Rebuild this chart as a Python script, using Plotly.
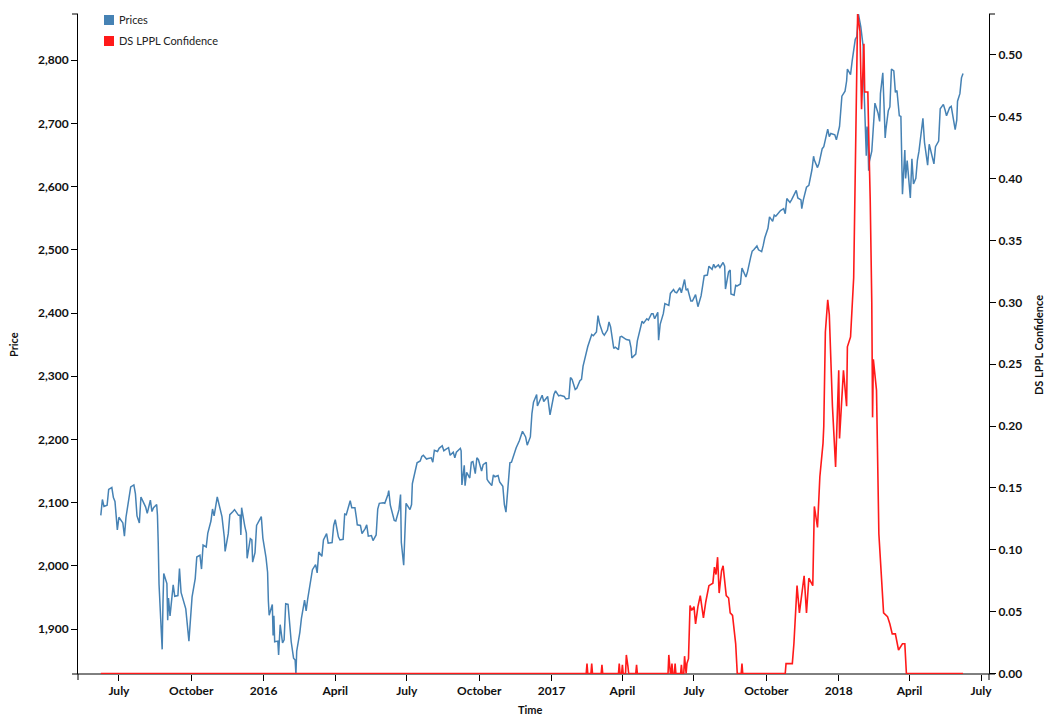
import plotly.graph_objects as go

# S&P 500 closing prices, grouped by year as (date, close) pairs
prices_2015 = [
    ("2015-06-08", 2080), ("2015-06-10", 2105), ("2015-06-12", 2094), ("2015-06-16", 2096),
    ("2015-06-18", 2121), ("2015-06-22", 2124), ("2015-06-24", 2108), ("2015-06-26", 2102),
    ("2015-06-29", 2057), ("2015-07-01", 2077), ("2015-07-06", 2068), ("2015-07-08", 2047),
    ("2015-07-10", 2077), ("2015-07-14", 2108), ("2015-07-16", 2125), ("2015-07-20", 2128),
    ("2015-07-22", 2114), ("2015-07-24", 2079), ("2015-07-27", 2068), ("2015-07-29", 2109),
    ("2015-07-31", 2104), ("2015-08-04", 2093), ("2015-08-06", 2083), ("2015-08-10", 2104),
    ("2015-08-12", 2086), ("2015-08-14", 2092), ("2015-08-18", 2097), ("2015-08-19", 2080),
    ("2015-08-20", 2035), ("2015-08-21", 1971), ("2015-08-24", 1893), ("2015-08-25", 1868),
    ("2015-08-26", 1940), ("2015-08-27", 1988), ("2015-08-31", 1972), ("2015-09-01", 1914),
    ("2015-09-02", 1949), ("2015-09-04", 1921), ("2015-09-08", 1970), ("2015-09-10", 1952),
    ("2015-09-14", 1953), ("2015-09-16", 1996), ("2015-09-18", 1958), ("2015-09-22", 1943),
    ("2015-09-24", 1932), ("2015-09-28", 1881), ("2015-09-30", 1920), ("2015-10-02", 1951),
    ("2015-10-06", 1980), ("2015-10-08", 2014), ("2015-10-12", 2017), ("2015-10-14", 1995),
    ("2015-10-16", 2033), ("2015-10-20", 2030), ("2015-10-22", 2052), ("2015-10-26", 2071),
    ("2015-10-28", 2090), ("2015-10-30", 2079), ("2015-11-03", 2109), ("2015-11-05", 2099),
    ("2015-11-09", 2078), ("2015-11-12", 2045), ("2015-11-13", 2023), ("2015-11-17", 2051),
    ("2015-11-19", 2081), ("2015-11-23", 2086), ("2015-11-25", 2089), ("2015-11-30", 2080),
    ("2015-12-02", 2080), ("2015-12-03", 2049), ("2015-12-04", 2092), ("2015-12-08", 2063),
    ("2015-12-10", 2052), ("2015-12-11", 2012), ("2015-12-15", 2043), ("2015-12-17", 2041),
    ("2015-12-18", 2006), ("2015-12-21", 2021), ("2015-12-23", 2064), ("2015-12-29", 2078),
    ("2015-12-31", 2044),
]

prices_2016 = [
    ("2016-01-04", 2013), ("2016-01-06", 1990), ("2016-01-07", 1944), ("2016-01-08", 1922),
    ("2016-01-12", 1939), ("2016-01-13", 1890), ("2016-01-14", 1921), ("2016-01-15", 1880),
    ("2016-01-19", 1881), ("2016-01-20", 1859), ("2016-01-22", 1907), ("2016-01-25", 1878),
    ("2016-01-27", 1883), ("2016-01-29", 1940), ("2016-02-01", 1939), ("2016-02-03", 1912),
    ("2016-02-05", 1880), ("2016-02-08", 1854), ("2016-02-10", 1851), ("2016-02-11", 1829),
    ("2016-02-12", 1865), ("2016-02-16", 1895), ("2016-02-18", 1917), ("2016-02-22", 1946),
    ("2016-02-24", 1929), ("2016-02-26", 1948), ("2016-03-01", 1978), ("2016-03-03", 1994),
    ("2016-03-07", 2002), ("2016-03-09", 1989), ("2016-03-11", 2022), ("2016-03-15", 2015),
    ("2016-03-17", 2041), ("2016-03-21", 2051), ("2016-03-23", 2036), ("2016-03-28", 2037),
    ("2016-03-30", 2064), ("2016-04-01", 2073), ("2016-04-05", 2046), ("2016-04-07", 2041),
    ("2016-04-11", 2042), ("2016-04-13", 2082), ("2016-04-15", 2081), ("2016-04-19", 2101),
    ("2016-04-20", 2103), ("2016-04-22", 2092), ("2016-04-26", 2092), ("2016-04-28", 2075),
    ("2016-04-29", 2065), ("2016-05-03", 2064), ("2016-05-05", 2051), ("2016-05-09", 2059),
    ("2016-05-11", 2065), ("2016-05-13", 2047), ("2016-05-17", 2048), ("2016-05-19", 2040),
    ("2016-05-23", 2049), ("2016-05-25", 2090), ("2016-05-27", 2099), ("2016-06-01", 2100),
    ("2016-06-03", 2099), ("2016-06-07", 2113), ("2016-06-08", 2119), ("2016-06-10", 2096),
    ("2016-06-13", 2079), ("2016-06-15", 2072), ("2016-06-17", 2071), ("2016-06-21", 2089),
    ("2016-06-23", 2113), ("2016-06-24", 2037), ("2016-06-27", 2001), ("2016-06-28", 2036),
    ("2016-06-30", 2099), ("2016-07-05", 2089), ("2016-07-07", 2097), ("2016-07-08", 2130),
    ("2016-07-12", 2152), ("2016-07-14", 2163), ("2016-07-18", 2166), ("2016-07-20", 2173),
    ("2016-07-22", 2175), ("2016-07-26", 2169), ("2016-07-28", 2170), ("2016-08-01", 2171),
    ("2016-08-03", 2164), ("2016-08-05", 2183), ("2016-08-09", 2181), ("2016-08-11", 2186),
    ("2016-08-15", 2190), ("2016-08-17", 2182), ("2016-08-19", 2184), ("2016-08-23", 2187),
    ("2016-08-25", 2175), ("2016-08-29", 2180), ("2016-08-31", 2171), ("2016-09-02", 2180),
    ("2016-09-07", 2186), ("2016-09-08", 2182), ("2016-09-09", 2128), ("2016-09-12", 2159),
    ("2016-09-13", 2127), ("2016-09-15", 2148), ("2016-09-19", 2139), ("2016-09-21", 2164),
    ("2016-09-23", 2165), ("2016-09-26", 2146), ("2016-09-28", 2171), ("2016-09-30", 2168),
    ("2016-10-04", 2150), ("2016-10-06", 2160), ("2016-10-10", 2164), ("2016-10-11", 2137),
    ("2016-10-13", 2133), ("2016-10-17", 2127), ("2016-10-19", 2144), ("2016-10-21", 2141),
    ("2016-10-25", 2143), ("2016-10-27", 2133), ("2016-10-31", 2126), ("2016-11-02", 2097),
    ("2016-11-04", 2085), ("2016-11-07", 2132), ("2016-11-09", 2163), ("2016-11-11", 2164),
    ("2016-11-15", 2180), ("2016-11-17", 2187), ("2016-11-21", 2198), ("2016-11-23", 2204),
    ("2016-11-25", 2213), ("2016-11-29", 2204), ("2016-12-01", 2191), ("2016-12-05", 2204),
    ("2016-12-07", 2241), ("2016-12-09", 2259), ("2016-12-13", 2271), ("2016-12-14", 2253),
    ("2016-12-16", 2258), ("2016-12-20", 2270), ("2016-12-22", 2260), ("2016-12-27", 2268),
    ("2016-12-30", 2239),
]

prices_2017 = [
    ("2017-01-04", 2271), ("2017-01-06", 2277), ("2017-01-10", 2269), ("2017-01-12", 2270),
    ("2017-01-17", 2268), ("2017-01-19", 2264), ("2017-01-23", 2265), ("2017-01-25", 2298),
    ("2017-01-27", 2295), ("2017-01-31", 2279), ("2017-02-02", 2281), ("2017-02-06", 2293),
    ("2017-02-08", 2295), ("2017-02-10", 2316), ("2017-02-14", 2338), ("2017-02-16", 2347),
    ("2017-02-21", 2366), ("2017-02-23", 2364), ("2017-02-27", 2370), ("2017-03-01", 2396),
    ("2017-03-03", 2383), ("2017-03-07", 2368), ("2017-03-09", 2365), ("2017-03-13", 2373),
    ("2017-03-15", 2386), ("2017-03-17", 2378), ("2017-03-21", 2344), ("2017-03-23", 2346),
    ("2017-03-27", 2342), ("2017-03-29", 2362), ("2017-03-31", 2363), ("2017-04-04", 2360),
    ("2017-04-06", 2358), ("2017-04-10", 2357), ("2017-04-12", 2345), ("2017-04-13", 2329),
    ("2017-04-18", 2335), ("2017-04-20", 2356), ("2017-04-24", 2374), ("2017-04-26", 2387),
    ("2017-04-28", 2384), ("2017-05-02", 2391), ("2017-05-04", 2389), ("2017-05-08", 2399),
    ("2017-05-10", 2399), ("2017-05-12", 2391), ("2017-05-16", 2401), ("2017-05-17", 2357),
    ("2017-05-19", 2382), ("2017-05-23", 2399), ("2017-05-25", 2415), ("2017-05-30", 2412),
    ("2017-06-01", 2431), ("2017-06-05", 2437), ("2017-06-07", 2433), ("2017-06-09", 2432),
    ("2017-06-13", 2440), ("2017-06-15", 2432), ("2017-06-19", 2453), ("2017-06-21", 2436),
    ("2017-06-23", 2438), ("2017-06-27", 2419), ("2017-06-29", 2419), ("2017-07-03", 2429),
    ("2017-07-06", 2410), ("2017-07-10", 2427), ("2017-07-12", 2443), ("2017-07-14", 2459),
    ("2017-07-18", 2460), ("2017-07-20", 2474), ("2017-07-24", 2469), ("2017-07-26", 2477),
    ("2017-07-28", 2472), ("2017-08-01", 2476), ("2017-08-03", 2472), ("2017-08-07", 2480),
    ("2017-08-09", 2474), ("2017-08-10", 2438), ("2017-08-14", 2465), ("2017-08-16", 2468),
    ("2017-08-17", 2430), ("2017-08-21", 2428), ("2017-08-23", 2444), ("2017-08-25", 2443),
    ("2017-08-29", 2446), ("2017-08-31", 2471), ("2017-09-05", 2457), ("2017-09-07", 2465),
    ("2017-09-11", 2488), ("2017-09-13", 2498), ("2017-09-15", 2500), ("2017-09-19", 2506),
    ("2017-09-21", 2500), ("2017-09-25", 2497), ("2017-09-27", 2507), ("2017-09-29", 2519),
    ("2017-10-03", 2534), ("2017-10-05", 2552), ("2017-10-09", 2545), ("2017-10-11", 2555),
    ("2017-10-13", 2553), ("2017-10-17", 2559), ("2017-10-19", 2562), ("2017-10-23", 2565),
    ("2017-10-25", 2557), ("2017-10-27", 2581), ("2017-10-31", 2575), ("2017-11-02", 2579),
    ("2017-11-06", 2591), ("2017-11-08", 2594), ("2017-11-10", 2582), ("2017-11-14", 2579),
    ("2017-11-15", 2565), ("2017-11-17", 2579), ("2017-11-21", 2599), ("2017-11-24", 2602),
    ("2017-11-28", 2627), ("2017-11-30", 2648), ("2017-12-01", 2642), ("2017-12-05", 2630),
    ("2017-12-07", 2637), ("2017-12-11", 2660), ("2017-12-13", 2663), ("2017-12-15", 2676),
    ("2017-12-18", 2691), ("2017-12-20", 2679), ("2017-12-22", 2684), ("2017-12-27", 2682),
    ("2017-12-29", 2674),
]

prices_2018 = [
    ("2018-01-02", 2695), ("2018-01-03", 2713), ("2018-01-04", 2724), ("2018-01-05", 2743),
    ("2018-01-09", 2751), ("2018-01-11", 2767), ("2018-01-12", 2786), ("2018-01-16", 2777),
    ("2018-01-18", 2798), ("2018-01-22", 2833), ("2018-01-24", 2837), ("2018-01-26", 2873),
    ("2018-01-29", 2853), ("2018-01-31", 2824), ("2018-02-01", 2822), ("2018-02-02", 2762),
    ("2018-02-05", 2649), ("2018-02-06", 2695), ("2018-02-07", 2682), ("2018-02-08", 2625),
    ("2018-02-09", 2640), ("2018-02-12", 2656), ("2018-02-14", 2699), ("2018-02-16", 2732),
    ("2018-02-20", 2716), ("2018-02-22", 2703), ("2018-02-23", 2747), ("2018-02-26", 2780),
    ("2018-02-28", 2714), ("2018-03-01", 2677), ("2018-03-02", 2691), ("2018-03-05", 2720),
    ("2018-03-07", 2726), ("2018-03-09", 2786), ("2018-03-12", 2783), ("2018-03-14", 2749),
    ("2018-03-16", 2752), ("2018-03-19", 2712), ("2018-03-21", 2711), ("2018-03-22", 2643),
    ("2018-03-23", 2588), ("2018-03-26", 2658), ("2018-03-27", 2613), ("2018-03-29", 2641),
    ("2018-04-02", 2582), ("2018-04-04", 2644), ("2018-04-06", 2604), ("2018-04-09", 2613),
    ("2018-04-11", 2642), ("2018-04-13", 2656), ("2018-04-17", 2706), ("2018-04-18", 2708),
    ("2018-04-20", 2670), ("2018-04-24", 2634), ("2018-04-26", 2667), ("2018-04-30", 2648),
    ("2018-05-02", 2636), ("2018-05-04", 2663), ("2018-05-08", 2672), ("2018-05-10", 2723),
    ("2018-05-14", 2730), ("2018-05-16", 2722), ("2018-05-18", 2712), ("2018-05-22", 2725),
    ("2018-05-24", 2727), ("2018-05-29", 2690), ("2018-05-31", 2705), ("2018-06-01", 2735),
    ("2018-06-04", 2747), ("2018-06-06", 2772), ("2018-06-08", 2779),
]

# DS LPPL bubble confidence indicator (zero outside the listed episodes)
confidence_2017_spring = [
    ("2015-06-08", 0.0),
    ("2017-02-14", 0.0), ("2017-02-15", 0.008), ("2017-02-16", 0.0), ("2017-02-20", 0.0),
    ("2017-02-21", 0.008), ("2017-02-22", 0.0), ("2017-03-05", 0.0), ("2017-03-06", 0.007),
    ("2017-03-07", 0.0), ("2017-03-27", 0.0), ("2017-03-28", 0.008), ("2017-03-29", 0.0),
    ("2017-03-31", 0.0), ("2017-04-01", 0.007), ("2017-04-02", 0.0), ("2017-04-05", 0.0),
    ("2017-04-06", 0.015), ("2017-04-08", 0.006), ("2017-04-09", 0.0), ("2017-04-18", 0.0),
    ("2017-04-19", 0.007), ("2017-04-20", 0.0), ("2017-05-29", 0.0), ("2017-05-30", 0.015),
    ("2017-06-01", 0.0), ("2017-06-02", 0.0), ("2017-06-03", 0.008), ("2017-06-04", 0.0),
    ("2017-06-06", 0.0), ("2017-06-07", 0.008), ("2017-06-08", 0.0), ("2017-06-14", 0.0),
    ("2017-06-15", 0.007), ("2017-06-16", 0.0), ("2017-06-18", 0.0), ("2017-06-19", 0.014),
    ("2017-06-21", 0.0),
]

confidence_2017_summer = [
    ("2017-06-22", 0.008), ("2017-06-24", 0.012), ("2017-06-26", 0.055), ("2017-06-28", 0.051),
    ("2017-07-01", 0.054), ("2017-07-03", 0.040), ("2017-07-06", 0.054), ("2017-07-09", 0.063),
    ("2017-07-13", 0.045), ("2017-07-16", 0.058), ("2017-07-20", 0.071), ("2017-07-25", 0.073),
    ("2017-07-27", 0.086), ("2017-07-29", 0.080), ("2017-07-31", 0.094), ("2017-08-02", 0.065),
    ("2017-08-05", 0.083), ("2017-08-07", 0.087), ("2017-08-11", 0.063), ("2017-08-14", 0.061),
    ("2017-08-16", 0.049), ("2017-08-19", 0.047), ("2017-08-23", 0.024), ("2017-08-25", 0.0),
    ("2017-08-30", 0.0), ("2017-08-31", 0.008), ("2017-09-01", 0.0),
]

confidence_2018_bubble = [
    ("2017-10-25", 0.0), ("2017-10-26", 0.008), ("2017-11-03", 0.008), ("2017-11-05", 0.024),
    ("2017-11-09", 0.071), ("2017-11-12", 0.049), ("2017-11-18", 0.079), ("2017-11-21", 0.049),
    ("2017-11-24", 0.077), ("2017-11-29", 0.071), ("2017-12-01", 0.135), ("2017-12-05", 0.118),
    ("2017-12-08", 0.159), ("2017-12-12", 0.186), ("2017-12-13", 0.200), ("2017-12-15", 0.276),
    ("2017-12-18", 0.302), ("2017-12-20", 0.290), ("2017-12-24", 0.216), ("2017-12-28", 0.167),
    ("2018-01-01", 0.245), ("2018-01-02", 0.190), ("2018-01-07", 0.245), ("2018-01-11", 0.216),
    ("2018-01-12", 0.264), ("2018-01-16", 0.272), ("2018-01-19", 0.316), ("2018-01-20", 0.320),
    ("2018-01-25", 0.533), ("2018-01-28", 0.519), ("2018-01-30", 0.456), ("2018-02-02", 0.509),
    ("2018-02-03", 0.470), ("2018-02-07", 0.470), ("2018-02-08", 0.438), ("2018-02-10", 0.383),
    ("2018-02-12", 0.300), ("2018-02-13", 0.207), ("2018-02-14", 0.254), ("2018-02-18", 0.229),
    ("2018-02-21", 0.113), ("2018-02-24", 0.081), ("2018-02-27", 0.049), ("2018-03-04", 0.046),
    ("2018-03-07", 0.040), ("2018-03-10", 0.032), ("2018-03-14", 0.032), ("2018-03-18", 0.019),
    ("2018-03-23", 0.024), ("2018-03-26", 0.024), ("2018-03-28", 0.0), ("2018-06-08", 0.0),
]

# x-axis ticks
tick_dates = ["2015-07-01", "2015-10-01", "2016-01-01", "2016-04-01", "2016-07-01",
              "2016-10-01", "2017-01-01", "2017-04-01", "2017-07-01", "2017-10-01",
              "2018-01-01", "2018-04-01", "2018-07-01"]
tick_labels = ["July", "October", "2016", "April", "July", "October", "2017",
               "April", "July", "October", "2018", "April", "July"]

price_series = prices_2015 + prices_2016 + prices_2017 + prices_2018
price_dates = [d for d, _ in price_series]
price_values = [v for _, v in price_series]

conf_series = confidence_2017_spring + confidence_2017_summer + confidence_2018_bubble
conf_dates = [d for d, _ in conf_series]
conf_values = [v for _, v in conf_series]

BLUE = "#4682b4"
RED = "#ff1a1a"
FONT = "Lato"

# plot area in page pixels
W, H = 1044, 717
L, R, T, B = 78, 989, 14, 674


def fx(px):
    return (px - L) / (R - L)


def fy(py):
    return (B - py) / (B - T)


fig = go.Figure()
fig.add_trace(go.Scatter(x=price_dates, y=price_values, mode="lines", name="Prices",
                         line=dict(color=BLUE, width=1.5), yaxis="y", showlegend=False))
fig.add_trace(go.Scatter(x=conf_dates, y=conf_values, mode="lines", name="DS LPPL Confidence",
                         line=dict(color=RED, width=1.6), yaxis="y2", showlegend=False))

tickfont = dict(family=FONT, size=12, color="#111", weight="bold")

fig.update_layout(
    width=W, height=H,
    margin=dict(l=L, r=W - R, t=T, b=H - B, pad=0),
    paper_bgcolor="white", plot_bgcolor="white",
    xaxis=dict(type="date", range=["2015-05-10", "2018-07-11"],
               tickmode="array", tickvals=tick_dates, ticktext=tick_labels,
               ticks="outside", ticklen=6, tickwidth=1, tickcolor="black",
               showline=False, showgrid=False, zeroline=False, tickfont=tickfont),
    yaxis=dict(range=[1829, 2873], tickmode="linear", tick0=1900, dtick=100,
               tickformat=",", ticks="outside", ticklen=6, tickwidth=1, tickcolor="black",
               showline=True, linecolor="black", linewidth=1,
               showgrid=False, zeroline=False, tickfont=tickfont),
    yaxis2=dict(range=[-0.0004, 0.533], overlaying="y", side="right",
                tickmode="linear", tick0=0, dtick=0.05, tickformat=".2f",
                ticks="outside", ticklen=6, tickwidth=1, tickcolor="black",
                showline=True, linecolor="black", linewidth=1,
                showgrid=False, zeroline=False, tickfont=tickfont),
)

shapes = []
# bottom axis line, kept beneath the traces so the zero-level line sits on it
shapes.append(dict(type="line", xref="paper", yref="paper", layer="below",
                   x0=fx(L - 6), x1=fx(R + 6), y0=0, y1=0,
                   line=dict(color="black", width=1)))
# outer end ticks of the axis domains
end_ticks = [
    (L - 6, T, L, T),                               # left axis top
    (R, T, R + 6, T),                               # right axis top
    (L, B, L, B + 6), (R, B, R, B + 6),             # bottom axis ends
]
for x0, y0, x1, y1 in end_ticks:
    shapes.append(dict(type="line", xref="paper", yref="paper",
                       x0=fx(x0), y0=fy(y0), x1=fx(x1), y1=fy(y1),
                       line=dict(color="black", width=1)))

# legend swatches
legend_items = [("Prices", BLUE, 20), ("DS LPPL Confidence", RED, 41)]
annotations = []
for label, color, cy in legend_items:
    shapes.append(dict(type="rect", xref="paper", yref="paper",
                       x0=fx(104), x1=fx(114), y0=fy(cy - 5), y1=fy(cy + 5),
                       fillcolor=color, line=dict(width=0)))
    annotations.append(dict(text=label, xref="paper", yref="paper",
                            x=fx(117), y=fy(cy), xanchor="left", yanchor="middle",
                            showarrow=False, font=dict(family=FONT, size=11, color="#222")))

# axis titles
title_font = dict(family=FONT, size=11, color="#111", weight="bold")
annotations.append(dict(text="Price", xref="paper", yref="paper", x=fx(14), y=fy(345),
                        textangle=-90, showarrow=False, font=title_font,
                        xanchor="center", yanchor="middle"))
annotations.append(dict(text="Time", xref="paper", yref="paper", x=fx(530), y=fy(710),
                        showarrow=False, font=title_font, xanchor="center", yanchor="middle"))
annotations.append(dict(text="DS LPPL Confidence", xref="paper", yref="paper",
                        x=fx(1039), y=fy(345), textangle=-90, showarrow=False,
                        font=title_font, xanchor="center", yanchor="middle"))

fig.update_layout(shapes=shapes, annotations=annotations)

fig.write_html("out.html")
